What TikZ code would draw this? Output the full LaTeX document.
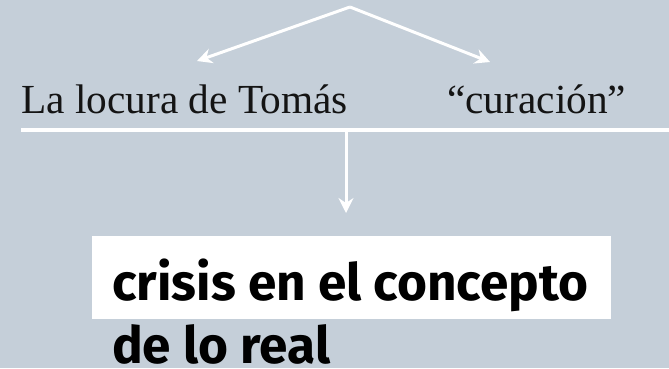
\documentclass[tikz,border=0pt]{standalone}
\usepackage{fontspec}
\setmainfont{Liberation Serif}
\newfontfamily\headfont{Fira Sans}
\usetikzlibrary{arrows.meta}
\definecolor{bgcol}{RGB}{197,207,217}
\definecolor{inkcol}{RGB}{20,20,20}
\tikzset{
  wline/.style={draw=white, line width=3bp},
  warrow/.style={wline, -{Stealth[length=15bp, width=15bp, inset=5bp]}},
  serifl/.style={anchor=base west, inner sep=0pt, text=inkcol, font=\fontsize{41.5}{41.5}\selectfont},
  boldl/.style={anchor=base west, inner sep=0pt, text=black, font=\headfont\bfseries\fontsize{51.5}{51.5}\selectfont},
}
\begin{document}
\begin{tikzpicture}[x=1bp, y=-1bp]
\useasboundingbox (0,0) rectangle (669,368);
\fill[bgcol] (0,0) rectangle (669,368);
% top fork
\coordinate (apex) at (350,7);
\coordinate (ltip) at (197,61);
\coordinate (rtip) at (490,62);
\node[serifl] (locura) at (21,113) {La locura de Tomás};
\node[serifl] (curacion) at (447,113) {“curación”};
\draw[warrow] (apex) -- (ltip);
\draw[warrow] (apex) -- (rtip);
% horizontal bar
\coordinate (barl) at (21,130);
\coordinate (barr) at (669,130);
\coordinate (barm) at (346,130);
\coordinate (downtip) at (346,213);
\draw[draw=white, line width=4bp] (barl) -- (barr);
\draw[warrow] (barm) -- (downtip);
% result
\node[fill=white, anchor=north west, minimum width=519bp, minimum height=83bp, inner sep=0pt] (box) at (92,236) {};
\node[boldl] (crisis) at (112,300) {crisis en el concepto};
\node[boldl] (real) at (112,363) {de lo real};
\end{tikzpicture}
\end{document}
